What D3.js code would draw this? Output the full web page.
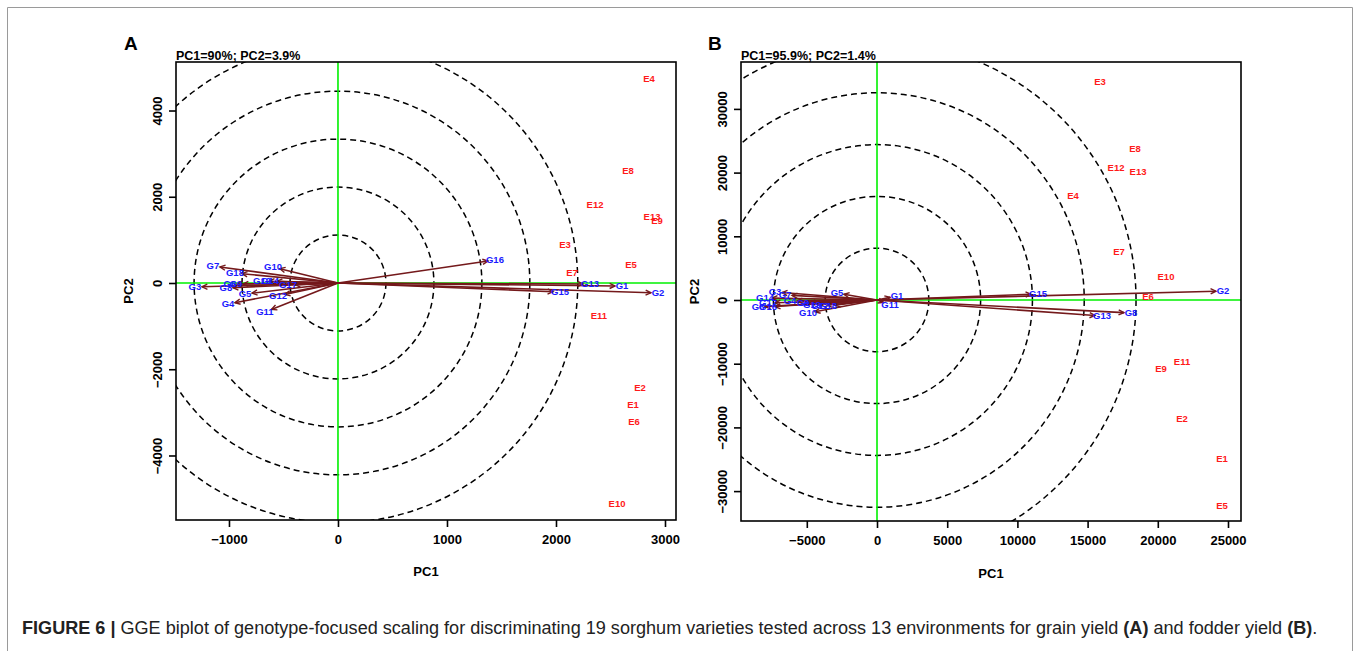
<!DOCTYPE html>
<html>
<head>
<meta charset="utf-8">
<script src="https://cdn.jsdelivr.net/npm/d3@7"></script>
<style>
  html, body { margin: 0; padding: 0; background: #fff; }
  svg { display: block; }
  text { font-family: "Liberation Sans", Arial, Helvetica, sans-serif; }
</style>
</head>
<body>
<svg id="fig" width="1360" height="651"></svg>
<script>
// ---------------- DATA ----------------
// Panel A: grain yield
const titleA = "PC1=90%; PC2=3.9%";
const xTicksA = [-1000, 0, 1000, 2000, 3000];
const yTicksA = [-4000, -2000, 0, 2000, 4000];
const circlesA = [440, 880, 1320, 1760, 2200];
const envNamesA = ["E1","E2","E3","E4","E5","E6","E7","E8","E9","E10","E11","E12","E13"];
const envPC1A = [2706, 2771, 2083, 2853, 2688, 2716, 2147, 2661, 2927, 2560, 2394, 2358, 2881];
const envPC2A = [-2829, -2435, 881, 4730, 417, -3223, 232, 2597, 1438, -5125, -765, 1809, 1530];
const genNamesA = ["G1","G2","G3","G4","G5","G6","G7","G8","G9","G10","G11","G12","G13","G14","G15","G16","G17","G18","G19"];
const genPC1A = [2606, 2936, -1312, -1009, -853, -991, -1147, -1028, -936, -596, -670, -550, 2312, -624, 2037, 1440, -459, -945, -697];
const genPC2A = [-70, -232, -93, -487, -255, -23, 394, -116, -23, 371, -672, -301, -23, 46, -209, 533, -46, 232, 46];

// Panel B: fodder yield
const titleB = "PC1=95.9%; PC2=1.4%";
const xTicksB = [-5000, 0, 5000, 10000, 15000, 20000, 25000];
const yTicksB = [-30000, -20000, -10000, 0, 10000, 20000, 30000];
const circlesB = [3690, 7380, 11070, 14760, 18450];
const envNamesB = ["E1","E2","E3","E4","E5","E6","E7","E8","E9","E10","E11","E12","E13"];
const envPC1B = [24573, 21724, 15883, 13960, 24573, 19302, 17236, 18376, 20228, 20584, 21724, 17023, 18590];
const envPC2B = [-24961, -18681, 34223, 16327, -32339, 471, 7535, 23705, -10832, 3611, -9733, 20722, 20094];
const genNamesB = ["G1","G2","G3","G4","G5","G6","G7","G8","G9","G10","G11","G12","G13","G14","G15","G16","G17","G18","G19"];
const genPC1B = [1425, 24644, -7265, -6197, -2849, -8476, -6553, 18091, -5271, -4915, 926, -4060, 16026, -7977, 11467, -7764, -7764, -3490, -4630];
const genPC2B = [628, 1413, 1256, -157, 1099, -1099, 785, -2041, -471, -2041, -785, -942, -2512, 314, 942, -1099, -471, -942, -785];

const caption = [
  {t: "FIGURE 6 | ", b: true},
  {t: "GGE biplot of genotype-focused scaling for discriminating 19 sorghum varieties tested across 13 environments for grain yield ", b: false},
  {t: "(A)", b: true},
  {t: " and fodder yield ", b: false},
  {t: "(B)", b: true},
  {t: ".", b: false}
];

// ---------------- DRAW ----------------
const svg = d3.select("#fig");
svg.append("rect").attr("width", 1360).attr("height", 651).attr("fill", "#fff");
// figure border (no bottom edge)
svg.append("path").attr("d", "M7.5,651 V7.5 H1352.5 V651")
  .attr("fill", "none").attr("stroke", "#9a9a9a").attr("stroke-width", 1);

const GREEN = "#00f000", ARROW = "#74191b", RED = "#ff1a1a", BLUE = "#1a1aff";

function panel(cfg) {
  const {x0, x1, y0, y1, xDom, yDom} = cfg;
  const x = d3.scaleLinear().domain(xDom).range([x0, x1]);
  const y = d3.scaleLinear().domain(yDom).range([y0, y1]);
  const g = svg.append("g");
  const clipId = "clip" + cfg.id;
  svg.append("defs").append("clipPath").attr("id", clipId)
    .append("rect").attr("x", x0).attr("y", y0).attr("width", x1 - x0).attr("height", y1 - y0);
  const inner = g.append("g").attr("clip-path", `url(#${clipId})`);

  // concentric circles
  inner.selectAll("circle.ring").data(cfg.circles).enter().append("circle")
    .attr("class", "ring")
    .attr("cx", x(0)).attr("cy", y(0))
    .attr("r", d => x(d) - x(0))
    .attr("fill", "none").attr("stroke", "#000").attr("stroke-width", 1.5)
    .attr("stroke-dasharray", "6,4");

  // green axes
  inner.append("line").attr("x1", x0).attr("x2", x1).attr("y1", y(0)).attr("y2", y(0))
    .attr("stroke", GREEN).attr("stroke-width", 1.6);
  inner.append("line").attr("x1", x(0)).attr("x2", x(0)).attr("y1", y0).attr("y2", y1)
    .attr("stroke", GREEN).attr("stroke-width", 1.6);

  // genotype vectors
  const gen = cfg.genNames.map((n, i) => ({n, px: x(cfg.genPC1[i]), py: y(cfg.genPC2[i])}));
  const ox = x(0), oy = y(0);
  gen.forEach(d => {
    const dx = d.px - ox, dy = d.py - oy;
    const L = Math.sqrt(dx * dx + dy * dy);
    const ux = dx / L, uy = dy / L;
    const tx = d.px - ux * 7, ty = d.py - uy * 7;
    inner.append("line").attr("x1", ox).attr("y1", oy).attr("x2", tx).attr("y2", ty)
      .attr("stroke", ARROW).attr("stroke-width", 1.6);
    const ah = 6, ang = 0.45;
    const a = Math.atan2(uy, ux);
    const p1 = [tx - ah * Math.cos(a - ang), ty - ah * Math.sin(a - ang)];
    const p2 = [tx - ah * Math.cos(a + ang), ty - ah * Math.sin(a + ang)];
    inner.append("path").attr("d", `M${p1[0]},${p1[1]} L${tx},${ty} L${p2[0]},${p2[1]}`)
      .attr("fill", "none").attr("stroke", ARROW).attr("stroke-width", 1.4);
  });
  inner.selectAll("text.gen").data(gen).enter().append("text")
    .attr("class", "gen")
    .attr("x", d => d.px).attr("y", d => d.py).attr("dy", "0.35em")
    .attr("text-anchor", "middle").attr("font-size", 9.5).attr("font-weight", "bold")
    .attr("fill", BLUE).text(d => d.n);

  // environment labels
  inner.selectAll("text.env").data(cfg.envNames).enter().append("text")
    .attr("class", "env")
    .attr("x", (d, i) => x(cfg.envPC1[i])).attr("y", (d, i) => y(cfg.envPC2[i])).attr("dy", "0.35em")
    .attr("text-anchor", "middle").attr("font-size", 9.5).attr("font-weight", "bold")
    .attr("fill", RED).text(d => d);

  // frame
  g.append("rect").attr("x", x0).attr("y", y0).attr("width", x1 - x0).attr("height", y1 - y0)
    .attr("fill", "none").attr("stroke", "#000").attr("stroke-width", 1.6);

  // x axis
  const xa = g.append("g").attr("transform", `translate(0,${y1})`)
    .call(d3.axisBottom(x).tickValues(cfg.xTicks).tickSize(7).tickPadding(8).tickFormat(d3.format("d")));
  xa.select(".domain").remove();
  xa.selectAll("line").attr("stroke", "#000").attr("stroke-width", 1.6);
  xa.selectAll("text").attr("font-size", 13).attr("font-weight", "bold").attr("fill", "#000")
    .attr("font-family", "Liberation Sans, Arial, sans-serif");

  // y axis
  const ya = g.append("g").attr("transform", `translate(${x0},0)`)
    .call(d3.axisLeft(y).tickValues(cfg.yTicks).tickSize(7).tickFormat(d3.format("d")));
  ya.select(".domain").remove();
  ya.selectAll("line").attr("stroke", "#000").attr("stroke-width", 1.6);
  ya.selectAll("text").remove();
  ya.selectAll(".tick").append("text")
    .attr("transform", `translate(${-14},0) rotate(-90)`)
    .attr("text-anchor", "middle").attr("font-size", 13).attr("font-weight", "bold")
    .attr("fill", "#000").attr("font-family", "Liberation Sans, Arial, sans-serif")
    .text(d => d3.format("d")(d));

  // axis titles
  g.append("text").attr("x", (x0 + x1) / 2).attr("y", cfg.pc1Y)
    .attr("text-anchor", "middle").attr("font-size", 13).attr("font-weight", "bold").text("PC1");
  g.append("text").attr("transform", `translate(${cfg.pc2X},${(y0 + y1) / 2}) rotate(-90)`)
    .attr("text-anchor", "middle").attr("font-size", 13).attr("font-weight", "bold").text("PC2");

  // title and panel letter
  g.append("text").attr("x", x0).attr("y", y0 - 2.5)
    .attr("font-size", 12.5).attr("font-weight", "bold").text(cfg.title);
  g.append("text").attr("x", cfg.letterX).attr("y", 50)
    .attr("font-size", 19).attr("font-weight", "bold").text(cfg.letter);
}

panel({id: "A", x0: 176, x1: 676, y0: 62, y1: 520, xDom: [-1486, 3101], yDom: [5125, -5496],
  circles: circlesA, xTicks: xTicksA, yTicks: yTicksA,
  envNames: envNamesA, envPC1: envPC1A, envPC2: envPC2A,
  genNames: genNamesA, genPC1: genPC1A, genPC2: genPC2A,
  title: titleA, letter: "A", letterX: 124, pc1Y: 576, pc2X: 132.5});

panel({id: "B", x0: 741, x1: 1241, y0: 62, y1: 521, xDom: [-9687, 25926], yDom: [37363, -34694],
  circles: circlesB, xTicks: xTicksB, yTicks: yTicksB,
  envNames: envNamesB, envPC1: envPC1B, envPC2: envPC2B,
  genNames: genNamesB, genPC1: genPC1B, genPC2: genPC2B,
  title: titleB, letter: "B", letterX: 708, pc1Y: 578, pc2X: 698.5});

// caption
const cap = svg.append("text").attr("x", 22).attr("y", 634).attr("font-size", 15).attr("fill", "#222");
caption.forEach(s => cap.append("tspan").attr("font-weight", s.b ? "bold" : "normal").text(s.t));
const targetW = 1296;
const w = cap.node().getComputedTextLength();
cap.attr("font-size", 15 * targetW / w);
</script>
</body>
</html>
